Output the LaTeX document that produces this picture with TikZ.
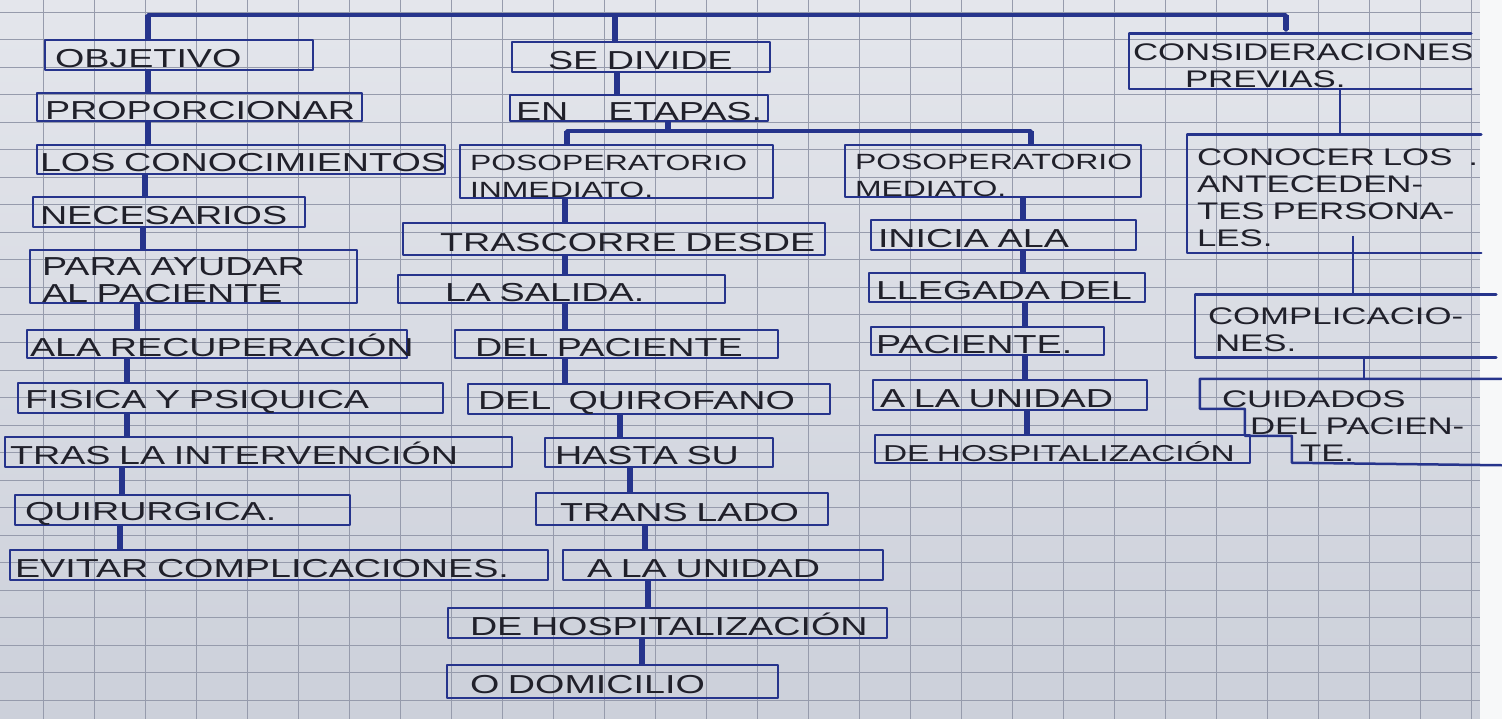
\documentclass[tikz,border=0pt]{standalone}
\usepackage{fontspec}
\newfontfamily\hand{Liberation Sans}[FakeStretch=1.45]
\hyphenpenalty=10000 \exhyphenpenalty=10000
\definecolor{ink}{RGB}{38,52,140}
\definecolor{pen}{RGB}{32,32,42}
\definecolor{paperA}{RGB}{228,230,236}
\definecolor{paperB}{RGB}{204,208,218}
\definecolor{gridc}{RGB}{150,155,172}
\tikzset{
 boxst/.style={draw=ink, line width=2.5pt, inner xsep=0pt, inner ysep=0pt, align=left, text=pen,
   font=\hand\fontsize{26}{27}\selectfont, line cap=round, line join=round},
 openst/.style={draw=none},
 rfont/.style={font=\hand\fontsize{24}{27}\selectfont},
 pfont/.style={font=\hand\fontsize{22}{27}\selectfont},
 hfont/.style={font=\hand\fontsize{23}{27}\selectfont},
 boxline/.style={draw=ink, line width=2.5pt, line cap=round, line join=round},
 conn/.style={draw=ink, line width=6pt},
 hline/.style={draw=ink, line width=3.5pt, line cap=round, line join=round},
 thinconn/.style={draw=ink, line width=2.5pt},
 gridl/.style={draw=gridc, line width=1pt},
}
\newcommand\bx[8][]{%
 \pgfmathsetmacro\bw{#5-#3}%
 \pgfmathsetmacro\bh{#6-#4}%
 \pgfmathsetmacro\tw{#5-#3-2*#7}%
 \pgfmathsetmacro\cx{(#3+#5)/2}%
 \pgfmathsetmacro\cy{(#4+#6)/2}%
 \node[boxst,#1,minimum width=\bw pt,minimum height=\bh pt,text width=\tw pt] (#2) at (\cx,\cy) {\rule{0pt}{25pt}#8};}
\begin{document}
\begin{tikzpicture}[x=1pt,y=-1pt]
\useasboundingbox (0,0) rectangle (1502,719);
\shade[top color=paperA, bottom color=paperB] (0,0) rectangle (1502,719);
\foreach \i in {0,...,29} \draw[gridl] ({-8+\i*51},0) -- ({-8+\i*51},719);
\foreach \j in {0,...,26} \draw[gridl] (0,{12.5+27.5*\j}) -- (1480,{12.5+27.5*\j});
\fill[white!70!paperA] (1480,0) rectangle (1502,719);

% column 1
\bx{obj}{45}{40}{313}{70}{10}{OBJETIVO}
\bx{prop}{37}{93}{362}{121}{8}{PROPORCIONAR}
\bx{con}{37}{145}{445}{174}{3}{LOS~CONOCIMIENTOS}
\bx{nec}{33}{197}{305}{227}{7}{NECESARIOS}
\bx{para}{30}{250}{357}{303}{12}{PARA~AYUDAR\\AL~PACIENTE}
\bx{rec}{27}{330}{407}{358}{3}{ALA~RECUPERACIÓN}
\bx{fis}{18}{384}{443}{412}{7}{FISICA~Y~PSIQUICA}
\bx{tras}{5}{437}{512}{467}{5}{TRAS~LA~INTERVENCIÓN}
\bx{quir}{15}{495}{350}{525}{10}{QUIRURGICA.}
\bx{evi}{10}{550}{548}{580}{5}{EVITAR~COMPLICACIONES.}

% column 2
\bx{div}{512}{42}{770}{72}{36}{SE~DIVIDE}
\bx{eta}{510}{95}{768}{121}{6}{\mbox{EN\hspace{40pt}ETAPAS.}}
\bx[pfont]{inm}{460}{145}{773}{198}{10}{POSOPERATORIO\\INMEDIATO.}
\bx{trc}{403}{223}{825}{255}{37}{TRASCORRE~DESDE}
\bx{sal}{398}{275}{725}{303}{47}{LA~SALIDA.}
\bx{dpac}{455}{330}{778}{358}{20}{DEL~PACIENTE}
\bx{quiro}{468}{385}{830}{413}{10}{DEL~~QUIROFANO}
\bx{hasta}{545}{438}{773}{467}{10}{HASTA~SU}
\bx{trl}{536}{493}{828}{525}{24}{TRANS~LADO}
\bx{uni}{563}{550}{883}{580}{24}{A~LA~UNIDAD}
\bx{hosp}{448}{608}{887}{638}{22}{DE~HOSPITALIZACIÓN}
\bx{dom}{447}{665}{778}{698}{23}{O~DOMICILIO}

% column 3
\bx[pfont]{med}{845}{145}{1141}{197}{10}{POSOPERATORIO\\MEDIATO.}
\bx{ini}{871}{220}{1136}{250}{7}{INICIA~ALA}
\bx{lle}{869}{273}{1145}{302}{7}{LLEGADA~DEL}
\bx{pac}{871}{327}{1104}{355}{5}{PACIENTE.}
\bx{uni2}{873}{380}{1147}{410}{7}{A~LA~UNIDAD}
\bx[hfont]{hosp2}{875}{435}{1250}{463}{8}{DE~HOSPITALIZACIÓN}

% column 4 (open boxes)
\bx[openst,rfont]{cons}{1130}{35}{1470}{88}{3}{CONSIDERACIONES\\\hspace*{52pt}PREVIAS.}
\bx[openst,rfont]{conoc}{1188}{136}{1480}{252}{9}{CONOCER~LOS~~.\\ANTECEDEN-\\TES~PERSONA-\\LES.}
\bx[openst,rfont]{compl}{1196}{296}{1495}{356}{12}{COMPLICACIO-\\\hspace*{7pt}NES.}
\bx[openst,rfont]{cuid}{1201}{380}{1500}{464}{21}{CUIDADOS\\\hspace*{28pt}DEL~PACIEN-\\\hspace*{78pt}TE.}
\draw[boxline] (cons.north east) -- (cons.north west) -- (cons.south west) -- (cons.south east);
\draw[boxline] (conoc.north east) -- (conoc.north west) -- (conoc.south west) -- (conoc.south east);
\draw[boxline] (compl.north east) -- (compl.north west) -- (compl.south west) -- (compl.south east);
\draw[boxline] (cuid.north east) -- (cuid.north west) -- ++(0,30) -- ++(45,0) -- ++(0,27) -- ++(47,0) -- ++(0,27) -- (cuid.south east);

% top connector
\coordinate (topR) at (1286,30);
\draw[hline] (obj.north -| 148,0) -- (148,15) -- (1286,15) -- (topR);
\draw[conn] (obj.north -| 148,0) -- (148,15);
\draw[conn] (div.north -| 615,0) -- (615,15);
\draw[conn] (topR) -- (1286,15);

% etapas branch
\draw[conn] (eta.south -| 668,0) -- (668,131);
\draw[hline] (inm.north -| 567,0) -- (567,131) -- (1031,131) -- (med.north -| 1031,0);
\draw[conn] (inm.north -| 567,0) -- (567,131);
\draw[conn] (med.north -| 1031,0) -- (1031,131);

% vertical chains
\foreach \a/\b/\x in {obj/prop/148, prop/con/148, con/nec/145, nec/para/143, para/rec/137,
  rec/fis/127, fis/tras/127, tras/quir/122, quir/evi/120,
  div/eta/617, inm/trc/565, trc/sal/565, sal/dpac/565, dpac/quiro/565, quiro/hasta/620,
  hasta/trl/630, trl/uni/645, uni/hosp/648, hosp/dom/642,
  med/ini/1023, ini/lle/1023, lle/pac/1025, pac/uni2/1025, uni2/hosp2/1027}
  \draw[conn] (\a.south -| \x,0) -- (\b.north -| \x,0);

% right column connectors
\draw[thinconn] (cons.south -| 1340,0) -- (conoc.north -| 1340,0);
\coordinate (c1) at (1353,236);
\draw[thinconn] (c1) -- (compl.north -| 1353,0);
\draw[thinconn] (compl.south -| 1364,0) -- (cuid.north -| 1364,0);
\end{tikzpicture}
\end{document}
